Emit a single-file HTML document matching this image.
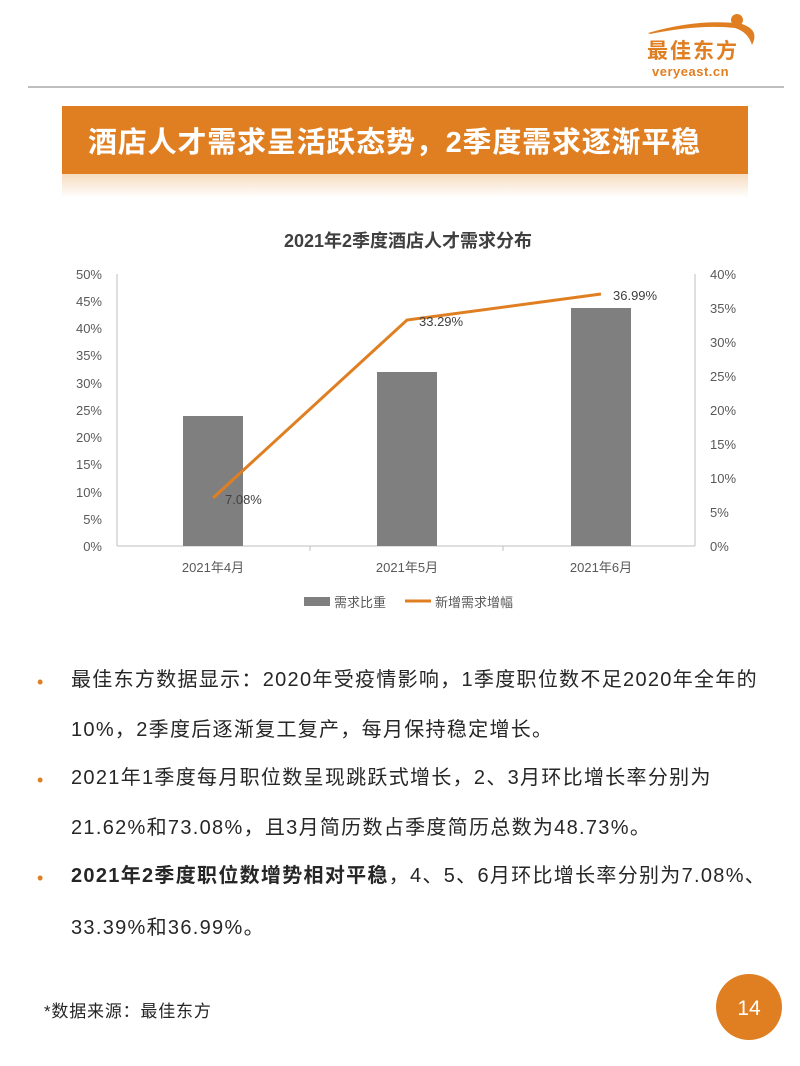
<!DOCTYPE html>
<html><head><meta charset="utf-8"><style>
body{margin:0;width:800px;height:1066px;background:#fff;position:relative;font-family:"Liberation Sans","Noto Sans CJK SC",sans-serif;overflow:hidden}
.t{position:absolute;left:71px;font-size:20px;letter-spacing:1.3px;color:#262626;white-space:nowrap;line-height:24px}
.d{position:absolute;left:37px;color:#e07f22;font-size:18px;line-height:24px}
</style></head><body>
<svg style="position:absolute;left:0;top:0" width="800" height="1066" font-family="Liberation Sans,Noto Sans CJK SC,sans-serif">
<defs><linearGradient id="g" x1="0" y1="0" x2="0" y2="1"><stop offset="0" stop-color="#f6dcc0"/><stop offset="1" stop-color="#fff"/></linearGradient></defs>
<path d="M648 33 Q700 18 742 24 Q760 30 752 45 Q748 32 735 28 Q700 24 650 34Z" fill="#e07f22"/>
<circle cx="737" cy="20" r="6" fill="#e07f22"/>
<text x="647" y="58" font-size="21" font-weight="bold" fill="#e07f22" letter-spacing="2">最佳东方</text>
<text x="652" y="76" font-size="13" font-weight="bold" fill="#e07f22" letter-spacing="0.5">veryeast.cn</text>
<line x1="28" y1="87" x2="784" y2="87" stroke="#aaa" stroke-width="1.5"/>
<rect x="62" y="106" width="686" height="68" fill="#e07f22"/>
<rect x="62" y="174" width="686" height="24" fill="url(#g)"/>
<text x="88" y="152" font-size="29" font-weight="bold" fill="#fff" letter-spacing="0.8">酒店人才需求呈活跃态势，2季度需求逐渐平稳</text>
<text x="408" y="247" font-size="18" font-weight="bold" fill="#404040" text-anchor="middle">2021年2季度酒店人才需求分布</text>
<g stroke="#bfbfbf" stroke-width="1">
<line x1="117" y1="274" x2="117" y2="546"/>
<line x1="695" y1="274" x2="695" y2="546"/>
<line x1="117" y1="546" x2="695" y2="546"/>
<line x1="310" y1="546" x2="310" y2="551"/>
<line x1="503" y1="546" x2="503" y2="551"/>
</g>
<g font-size="13" fill="#595959" text-anchor="end">
<text x="102" y="279">50%</text>
<text x="102" y="306">45%</text>
<text x="102" y="333">40%</text>
<text x="102" y="360">35%</text>
<text x="102" y="388">30%</text>
<text x="102" y="415">25%</text>
<text x="102" y="442">20%</text>
<text x="102" y="469">15%</text>
<text x="102" y="497">10%</text>
<text x="102" y="524">5%</text>
<text x="102" y="551">0%</text>
</g>
<g font-size="13" fill="#595959">
<text x="710" y="279">40%</text>
<text x="710" y="313">35%</text>
<text x="710" y="347">30%</text>
<text x="710" y="381">25%</text>
<text x="710" y="415">20%</text>
<text x="710" y="449">15%</text>
<text x="710" y="483">10%</text>
<text x="710" y="517">5%</text>
<text x="710" y="551">0%</text>
</g>
<rect x="183" y="416" width="60" height="130" fill="#7f7f7f"/>
<rect x="377" y="372" width="60" height="174" fill="#7f7f7f"/>
<rect x="571" y="308" width="60" height="238" fill="#7f7f7f"/>
<polyline points="213,498 407,320 601,294" fill="none" stroke="#e07f22" stroke-width="3"/>
<g font-size="13" fill="#404040">
<text x="225" y="504">7.08%</text>
<text x="419" y="326">33.29%</text>
<text x="613" y="300">36.99%</text>
</g>
<g font-size="13" fill="#595959" text-anchor="middle">
<text x="213" y="572">2021年4月</text>
<text x="407" y="572">2021年5月</text>
<text x="601" y="572">2021年6月</text>
</g>
<rect x="304" y="597" width="26" height="9" fill="#7f7f7f"/>
<text x="334" y="607" font-size="13" fill="#595959">需求比重</text>
<line x1="405" y1="601" x2="431" y2="601" stroke="#e07f22" stroke-width="3"/>
<text x="435" y="607" font-size="13" fill="#595959">新增需求增幅</text>
<circle cx="749" cy="1007" r="33" fill="#e07f22"/>
<text x="749" y="1015" font-size="21" fill="#fff" text-anchor="middle">14</text>
</svg>
<div class="d" style="top:670px">•</div>
<div class="t" style="top:668px">最佳东方数据显示：2020年受疫情影响，1季度职位数不足2020年全年的</div>
<div class="t" style="top:718px">10%，2季度后逐渐复工复产，每月保持稳定增长。</div>
<div class="d" style="top:768px">•</div>
<div class="t" style="top:766px">2021年1季度每月职位数呈现跳跃式增长，2、3月环比增长率分别为</div>
<div class="t" style="top:816px">21.62%和73.08%，且3月简历数占季度简历总数为48.73%。</div>
<div class="d" style="top:866px">•</div>
<div class="t" style="top:864px"><b>2021年2季度职位数增势相对平稳</b>，4、5、6月环比增长率分别为7.08%、</div>
<div class="t" style="top:916px">33.39%和36.99%。</div>
<div style="position:absolute;left:44px;top:997px;font-size:17px;letter-spacing:0.8px;color:#262626">*数据来源：最佳东方</div>
</body></html>
